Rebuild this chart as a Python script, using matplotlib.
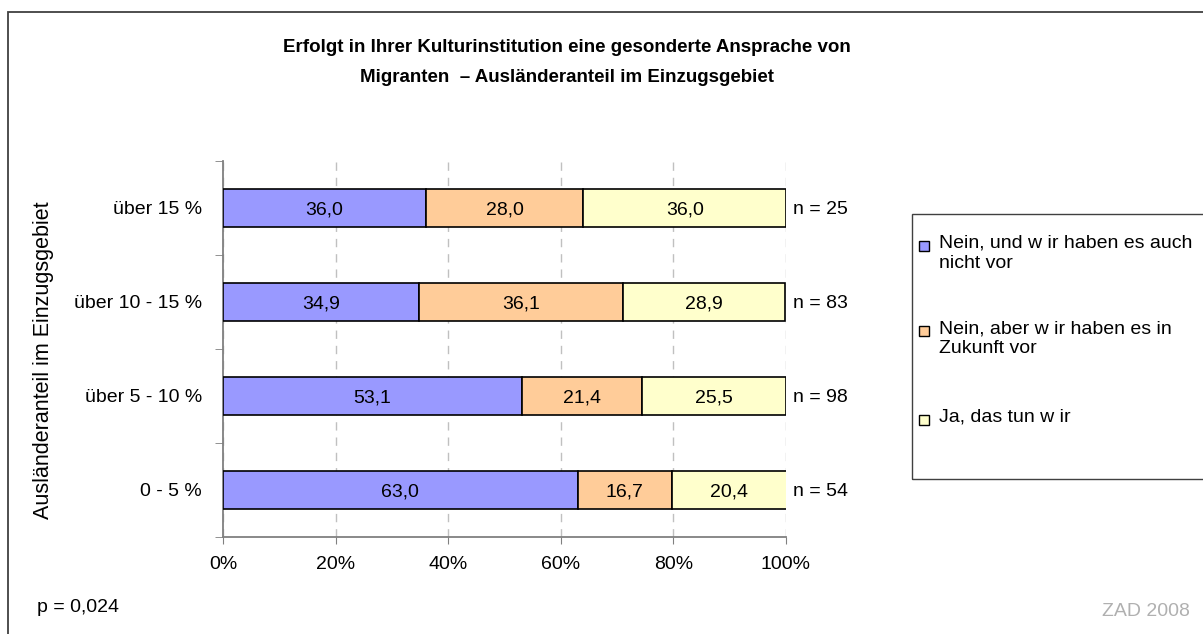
import matplotlib.pyplot as plt
import numpy as np
from matplotlib.patches import Rectangle

plt.rcParams['font.family'] = ['Liberation Sans', 'DejaVu Sans']

categories = ['0 - 5 %', 'über 5 - 10 %', 'über 10 - 15 %', 'über 15 %']
nein_nicht = [63.0, 53.1, 34.9, 36.0]
nein_zukunft = [16.7, 21.4, 36.1, 28.0]
ja = [20.4, 25.5, 28.9, 36.0]
n_values = [54, 98, 83, 25]
series_names = ['Nein, und w ir haben es auch\nnicht vor',
                'Nein, aber w ir haben es in\nZukunft vor',
                'Ja, das tun w ir']
colors = ['#9999FF', '#FFCC99', '#FFFFCC']

FS = 14

fig = plt.figure(figsize=(12.03, 6.34), dpi=100)
ax = fig.add_axes([223 / 1203, 1 - 537 / 634, 563 / 1203, 376 / 634])

y = np.arange(len(categories))
left = np.zeros(len(categories))
for vals, col in zip([nein_nicht, nein_zukunft, ja], colors):
    ax.barh(y, vals, left=left, height=0.41, color=col,
            edgecolor='black', linewidth=1.2, zorder=3)
    for yi, l, v in zip(y, left, vals):
        ax.text(l + v / 2, yi, f"{v:.1f}".replace('.', ','), ha='center',
                va='center_baseline', fontsize=FS, zorder=4)
    left = left + np.array(vals)

for yi, n in zip(y, n_values):
    ax.text(101.3, yi, f"n = {n}", ha='left', va='center_baseline', fontsize=FS)

ax.set_xlim(0, 100)
ax.set_ylim(-0.5, len(categories) - 0.5)
ax.set_xticks(np.arange(0, 101, 20))
ax.set_xticklabels([f"{v}%" for v in range(0, 101, 20)], fontsize=FS)
ax.set_yticks(y)
ax.set_yticklabels(categories, fontsize=FS)
ax.tick_params(axis='y', which='major', length=0, pad=15)
ax.set_yticks(np.arange(-0.5, len(categories), 1), minor=True)
ax.tick_params(axis='y', which='minor', length=6, color='#808080', direction='out')
ax.tick_params(axis='x', length=5, color='#808080', pad=9)
ax.xaxis.grid(True, linestyle=(0, (6, 5)), color='#C0C0C0', linewidth=1, zorder=0)
for s in ['top', 'right']:
    ax.spines[s].set_visible(False)
for s in ['left', 'bottom']:
    ax.spines[s].set_color('#808080')
    ax.spines[s].set_linewidth(1.3)
ax.set_ylabel('Ausländeranteil im Einzugsgebiet', fontsize=15.5)
ax.yaxis.set_label_coords((54 - 223) / 563, 0.47)

fig.text(567 / 1203, 1 - 48 / 634, 'Erfolgt in Ihrer Kulturinstitution eine gesonderte Ansprache von',
         ha='center', va='center', fontsize=13.5, fontweight='bold')
fig.text(567 / 1203, 1 - 78 / 634, 'Migranten  – Ausländeranteil im Einzugsgebiet',
         ha='center', va='center', fontsize=13.5, fontweight='bold')

fig.text(37 / 1203, 1 - 608 / 634, 'p = 0,024', ha='left', va='center', fontsize=FS)
fig.text(1190 / 1203, 1 - 612 / 634, 'ZAD 2008', ha='right', va='center',
         fontsize=FS, color='#B0B0B0')

# outer chart frame
fig.patches.append(Rectangle((8 / 1203, -0.1), 1.2, 1.1 - 12 / 634, transform=fig.transFigure,
                             fill=False, edgecolor='#404040', linewidth=1.3))
# legend frame
fig.patches.append(Rectangle((912 / 1203, 1 - 479 / 634), 0.3, 265 / 634, transform=fig.transFigure,
                             fill=False, edgecolor='#404040', linewidth=1))

# legend entries (y of first text line centre)
entry_centres = [246, 331, 420]
for name, col, ty in zip(series_names, colors, entry_centres):
    fig.patches.append(Rectangle((919 / 1203, 1 - (ty + 5) / 634), 10 / 1203, 10 / 634,
                                 transform=fig.transFigure, facecolor=col,
                                 edgecolor='black', linewidth=1))
    fig.text(939 / 1203, 1 - (ty - 11) / 634, name, ha='left', va='top',
             fontsize=FS, linespacing=1.2)

plt.savefig('out.png', dpi=100)
